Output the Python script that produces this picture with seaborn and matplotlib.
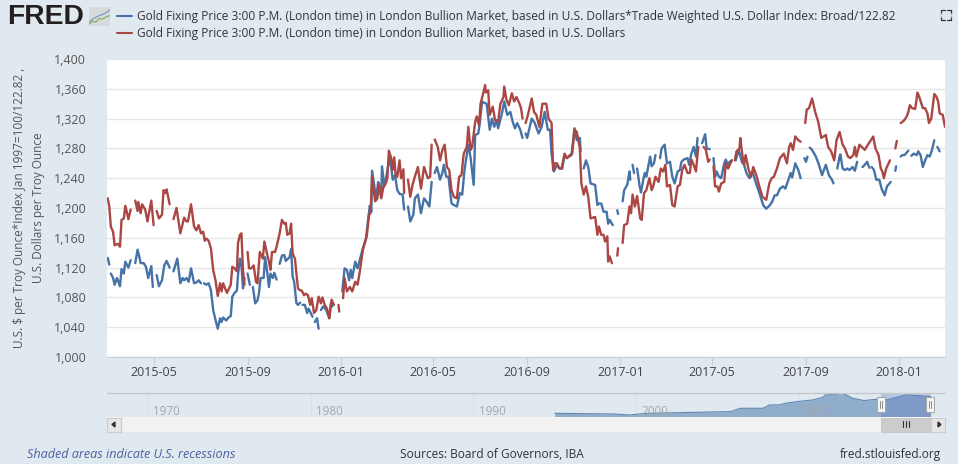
import matplotlib
matplotlib.use("Agg")
import matplotlib.pyplot as plt
import matplotlib.dates as mdates
from matplotlib.patches import Rectangle, Polygon
from matplotlib.lines import Line2D
import numpy as np
import pandas as pd
import seaborn as sns

nan = float("nan")
START_DATE = "2015-03-01"

blue_name = "Gold Fixing Price 3:00 P.M. (London time) in London Bullion Market, based in U.S. Dollars*Trade Weighted U.S. Dollar Index: Broad/122.82"
red_name = "Gold Fixing Price 3:00 P.M. (London time) in London Bullion Market, based in U.S. Dollars"
y_label = "U.S. $ per Troy Ounce*Index Jan 1997=100/122.82 ,\nU.S. Dollars per Troy Ounce"
y_ticks = [1000, 1040, 1080, 1120, 1160, 1200, 1240, 1280, 1320, 1360, 1400]
x_ticks = ["2015-05", "2015-09", "2016-01", "2016-05", "2016-09", "2017-01", "2017-05", "2017-09", "2018-01"]

# days since START_DATE, nan marks a break in the line
red_days = [1,3,5,8,10,14,17,19,22,24,28,31,nan,
 37,40,41,44,46,50,53,58,61,nan,
 65,68,72,74,76,78,82,nan,
 87,91,96,101,104,106,110,114,117,120,123,126,128,130,133,136,139,142,145,148,150,152,157,162,164,167,170,171.5,174,176,178,180,nan,
 184,186,189,192,195,197,200,204,206,209,212,214,216,220,222,226,229,232,234,236,239,241,243,246,250,252,255,258,260,263,266,268,271,274,277,280,282,285,288,291,294,297,nan,
 303,304,nan,
 309,311,314,318,321,325,328,331,335,340,343,345,347,351,354,356,359,362,365,367,369,372,374,376,378,380,383,385,388,389,nan,
 394,397,400,403,407,411,415,420,423,425,nan,
 429,433,436,439,442,445,448,451,454,458,461,464,467,471,473,476,478,482,484,487,489,492,495,496,499,501,505,508,512,515,519,520,523,526,530,533,536,540,542,544,nan,
 548,551,556,559,562,566,570,575,578,582,584,586,589,592,595,599,602,606,609,612,615,619,621,624,627,630,633,639,642,644,647,650,652,655,656,658,661,nan,
 668,669,nan,
 675,677,681,684,686,688,691,694,698,700,703,706,710,713,715,718,722,725,728,731,733,737,740,743,747,750,753,756,760,763,765,768,771,774,nan,
 781,784,787,789,nan,
 794,796,799,801,804,808,810,813,818,nan,
 822,824,828,829,832,834,836,840,843,846,850,854,858,863,867,870,873,877,881,886,890,893,895,898,901,905,908,nan,
 914,916,919,923,927,931,935,941,944,948,952,955,959,963,966,970,973,977,979,981,985,988,992,996,1000,1003,1006,1010,1013,1015,1017,1020,1025,nan,
 1032,1034,nan,
 1039,1043,1047,1049,1051,1054,1058,1061,1064,1068,1071,1074,1076,1079,1083,1086,1088,1090,1094,1097]
red_prices = [1213,1202,1175,1168,1150,1152,1148,1184,1186,1203,1185,1198,nan,
 1210,1196,1208,1193,1205,1198,1182,1210,1177,nan,
 1196,1186,1191,1224,1220,1225,1205,nan,
 1185,1200,1166,1187,1182,1182,1205,1175,1170,1177,1166,1168,1156,1159,1156,1146,1117,1103,1082,1099,1088,1099,1086,1097,1121,1119,1115,1153,1164,1166,1117,1097,nan,
 1141,1119,1119,1123,1101,1099,1141,1132,1155,1141,1128,1117,1141,1141,1148,1166,1184,1179,1180,1164,1166,1179,1139,1132,1092,1090,1089,1083,1085,1083,1070,1079,1059,1063,1081,1072,1080,1070,1065,1052,1077,1070,nan,
 1070,1061,nan,
 1079,1106,1088,1094,1088,1101,1097,1115,1144,1162,1191,1193,1242,1209,1213,1233,1213,1229,1233,1240,1277,1267,1251,1268,1242,1242,1264,1240,1252,1220,nan,
 1238,1215,1231,1242,1255,1226,1255,1240,1242,1285,nan,
 1292,1282,1264,1278,1285,1255,1251,1224,1215,1213,1242,1244,1273,1282,1309,1278,1282,1316,1323,1311,1340,1352,1365,1355,1358,1325,1336,1318,1316,1340,1349,1363,1345,1338,1354,1343,1349,1340,1334,1320,nan,
 1314,1325,1347,1329,1325,1309,1340,1340,1320,1314,1251,1260,1260,1253,1253,1273,1267,1271,1273,1305,1302,1280,1233,1218,1229,1215,1186,1188,1164,1175,1164,1164,1155,1162,1128,1135,1126,nan,
 1136,1146,nan,
 1153,1177,1179,1202,1193,1218,1202,1216,1186,1184,1220,1224,1240,1224,1229,1242,1235,1253,1249,1258,1229,1231,1204,1202,1229,1231,1251,1258,1247,1247,1265,1258,1249,1282,nan,
 1282,1278,1262,1265,nan,
 1256,1229,1229,1222,1233,1235,1260,1253,1264,nan,
 1264,1276,1280,1294,1269,1258,1271,1251,1242,1255,1244,1229,1215,1211,1233,1240,1242,1253,1267,1273,1260,1282,1287,1278,1296,1291,1289,nan,
 1314,1332,1334,1347,1329,1316,1294,1298,1282,1276,1264,1291,1302,1285,1280,1269,1267,1271,1282,1269,1285,1282,1278,1285,1291,1296,1280,1271,1253,1249,1240,1253,1264,nan,
 1280,1290,nan,
 1314,1317,1323,1329,1338,1334,1333,1355,1347,1334,1334,1327,1314,1320,1353,1349,1343,1327,1325,1309]

blue_days = [1,3,nan,
 5,8,10,13,15,17,19,22,24,28,31,nan,
 37,40,42,44,48,51,54,58,60,nan,
 65,68,72,75,78,82,nan,
 87,92,96,99,101,104,107,110,114,117,120,123,nan,
 127,130,133,136,139,142,145,148,150,152,156,159,162,164,167,170,171.5,174,176,178,180,nan,
 184,187,nan,
 191,194,197,199,201,205,207,210,212,214,217,219,222,nan,
 226,229,232,234,239,241,243,245,248,250,253,nan,
 256,259,262,264,269,nan,
 272,275,277,nan,
 280,283,287,291,293,295,nan,
 308,311,314,317,319,321,325,328,335,339,341,344,346,347,350,352,355,359,360,363,366,370,372,374,377,380,383,387,389,nan,
 394,397,401,403,407,411,415,418,422,425,nan,
 429,432,436,439,441,444,447,451,454,458,462,465,468,473,476,480,482,486,488,491,494,497,501,504,507,510,512,517,520,524,528,531,534,537,541,544,nan,
 548,550,553,556,560,565,569,573,577,580,582,585,589,593,596,599,602,608,612,615,619,620,nan,
 624,627,630,633,639,642,644,647,650,654,656,658,662,nan,
 668,669,nan,
 675,677,681,684,685,nan,
 688,690,nan,
 694,697,699,702,704,706,711,713,716,718,nan,
 724,726,730,733,737,740,743,747,750,752,755,760,762,765,768,771,773,nan,
 779,783,785,789,nan,
 794,796,798,801,804,808,810,813,815,818,nan,
 823,827,831,834,837,841,845,849,854,859,863,868,871,874,877,881,885,888,892,895,897,901,905,908,nan,
 913,915,917,nan,
 920,923,928,932,936,941,945,949,951,nan,
 956,959,960,963,966,969,972,976,979,982,nan,
 989,992,995,998,nan,
 1001,1004,1007,1011,1014,1018,1021,1026,nan,
 1032,1033,nan,
 1039,1041,1044,1049,nan,
 1053,1056,1060,1062,1065,1068,1071,1074,1077,1080,1083,nan,
 1087,1090]
blue_prices = [1133,1124,nan,
 1112,1106,1097,1106,1101,1095,1118,1112,1128,1120,1130,nan,
 1126,1144,1136,1126,1126,1121,1106,1122,1094,nan,
 1110,1095,1103,1123,1129,1120,nan,
 1115,1132,1099,1106,1103,1106,1101,1119,1099,1100,1103,1099,nan,
 1099,1097,1099,1090,1063,1050,1038,1052,1047,1053,1049,1053,1055,1081,1086,1089,1110,1132,1123,1092,1106,nan,
 1112,1097,nan,
 1094,1072,1076,1086,1106,1106,1134,1112,1094,1112,1106,1113,1104,nan,
 1125,1136,1137,1129,1134,1145,1108,1101,1072,1070,1073,nan,
 1070,1070,1059,1065,1054,nan,
 1047,1052,1038,nan,
 1063,1068,1063,1052,1072,1068,nan,
 1088,1119,1117,1103,1117,1106,1128,1119,1146,1159,1177,1203,1195,1250,1229,1211,1235,1215,1256,1229,1244,1269,1255,1238,1244,1224,1219,1218,1198,nan,
 1202,1182,1191,1213,1218,1193,1213,1209,1202,1235,nan,
 1247,1255,1238,1247,1258,1242,1242,1206,1204,1202,1220,1218,1251,1285,1267,1231,1298,1300,1314,1343,1341,1340,1305,1320,1309,1318,1307,1327,1343,1325,1329,1316,1307,1314,1305,1294,nan,
 1300,1294,1307,1320,1314,1300,1309,1329,1305,1305,1273,1249,1258,1253,1253,1271,1267,1271,1307,1291,1294,1276,nan,
 1253,1264,1255,1233,1231,1204,1206,1206,1195,1195,1179,1184,1177,nan,
 1197,1192,nan,
 1209,1224,1231,1249,1238,nan,
 1258,1247,nan,
 1253,1231,1221,1238,1247,1242,1269,1256,1260,1271,nan,
 1267,1280,1285,1260,1262,1242,1233,1249,1251,1262,1265,1267,1258,1273,1282,1269,1294,nan,
 1287,1299,1280,1279,nan,
 1267,1242,1249,1242,1240,1260,1265,1258,1262,1264,nan,
 1264,1278,1262,1258,1247,1240,1249,1235,1220,1204,1199,1204,1209,1217,1217,1226,1229,1226,1238,1247,1241,1260,1251,1240,nan,
 1267,1262,1269,nan,
 1281,1278,1269,1258,1244,1258,1244,1238,1233,nan,
 1253,1269,1272,1253,1251,1253,1251,1255,1250,1262,nan,
 1255,1258,1262,1254,nan,
 1255,1251,1238,1238,1226,1217,1229,1235,nan,
 1250,1256,nan,
 1269,1271,1271,1277,nan,
 1270,1273,1271,1276,1271,1255,1264,1271,1269,1278,1291,nan,
 1282,1276]

# range selector series (whole history)
nav_years = [1995.0,1998.6,1999.6,2000.6,2002.7,2004.7,2005.8,2006.4,2007.8,2008.2,2008.8,2009.2,2009.9,2010.9,2011.5,2011.7,2012.1,2012.7,2013.3,2014.0,2014.8,2015.1,2015.4,2016.2,2016.6,2018.1]
nav_values = [294,240,160,294,347,400,427,694,694,961,961,1095,1228,1362,1575,1842,1762,1895,1495,1308,1415,1362,1362,1629,1762,1629]
nav_labels = [1970, 1980, 1990, 2000, 2010]

icon_x = [0, 1, 2, 3, 4, 5, 6]
icon_blue = [1.2, 2.4, 3.0, 3.6, 4.0, 4.6, 5.6]
icon_green = [0.6, 1.6, 1.4, 2.6, 2.4, 3.2, 3.6]

W, H = 958, 465
BG = "#e1e9f0"
BLUE = "#4572a7"
RED = "#aa4643"
FONT = "Open Sans"

sns.set_theme(style="white")
plt.rcParams["font.family"] = [FONT, "DejaVu Sans"]
fig = plt.figure(figsize=(W / 100, H / 100), dpi=100, facecolor=BG)

def fx(x): return x / W
def fy(y): return 1 - y / H
def rect(x0, y0, x1, y1, **kw):
    fig.add_artist(Rectangle((fx(x0), fy(y1)), (x1 - x0) / W, (y1 - y0) / H, transform=fig.transFigure, **kw))
def hline(x0, y0, x1, y1, **kw):
    fig.add_artist(Line2D([fx(x0), fx(x1)], [fy(y0), fy(y1)], transform=fig.transFigure, **kw))
def text(x, y, s, **kw):
    fig.text(fx(x), fy(y), s, **kw)

# main axes
ax = fig.add_axes([fx(107), fy(357), 838 / W, 298 / H], facecolor="white")
t0 = pd.Timestamp(START_DATE)

def frame(days, prices, name):
    df = pd.DataFrame({"day": days, "price": prices})
    df["segment"] = df["price"].isna().cumsum()
    df = df.dropna().copy()
    df["date"] = t0 + pd.to_timedelta(df["day"], unit="D")
    df["series"] = name
    return df

for days, prices, name, col in [(blue_days, blue_prices, blue_name, BLUE), (red_days, red_prices, red_name, RED)]:
    sns.lineplot(data=frame(days, prices, name), x="date", y="price", units="segment", estimator=None,
                 color=col, lw=1.7, sort=False, legend=False, ax=ax, solid_joinstyle="round")

ax.set_xlim(t0, t0 + pd.Timedelta(days=1097))
ax.set_ylim(1000, 1400)
ax.set_yticks(y_ticks)
ax.set_yticklabels([f"{v:,}" for v in y_ticks], fontsize=9, color="#555555")
ax.set_xticks([pd.Timestamp(t + "-01") for t in x_ticks])
ax.set_xticklabels(x_ticks, fontsize=9, color="#444444")
ax.xaxis.set_minor_locator(matplotlib.ticker.NullLocator())
ax.grid(axis="y", color="#e6e6e6", lw=1)
ax.grid(axis="x", visible=False)
ax.set_axisbelow(True)
ax.set_xlabel("")
ax.set_ylabel("")
for s in ["top", "left", "right"]:
    ax.spines[s].set_visible(False)
ax.spines["bottom"].set_color("#c0d0e0")
ax.spines["bottom"].set_linewidth(0.8)
ax.tick_params(axis="x", length=5.8, color="#c0d0e0", width=0.8, pad=1, bottom=True)
ax.tick_params(axis="y", length=0, pad=15)

fig.text(fx(29), fy(207.5), y_label, rotation=90, ha="center", va="center", ma="center",
         fontsize=8.5, color="#555555", linespacing=1.6)

# header
text(7, 17.5, "FRED", family="Liberation Sans", fontsize=20.3, fontweight="bold", color="#231f20", va="center", ha="left")
icon = fig.add_axes([fx(89), fy(26), 21 / W, 19 / H], facecolor="#dfe4e6")
icon.add_patch(Rectangle((0, 0), 6, 6.5, color="#d5dadb", zorder=0))
sns.lineplot(x=icon_x, y=icon_blue, color="#7d9cc4", lw=0.9, ax=icon, legend=False)
sns.lineplot(x=icon_x, y=icon_green, color="#8fae6a", lw=0.9, ax=icon, legend=False)
icon.set_xlim(0, 6); icon.set_ylim(0, 6.5); icon.axis("off")

for y, col, s in [(16, BLUE, blue_name), (33, RED, red_name)]:
    hline(117, y, 132, y, color=col, lw=1.5)
    text(137, y + 0.5, s, fontsize=8.57, color="#333333", va="center", ha="left")

# fullscreen icon
for (a, b, c, d, e, f) in [(945, 10, 941, 10, 941, 14), (947, 10, 951, 10, 951, 14), (941, 17, 941, 20, 945, 20), (951, 17, 951, 20, 947, 20)]:
    fig.add_artist(Line2D([fx(a), fx(c), fx(e)], [fy(b), fy(d), fy(f)], transform=fig.transFigure, color="#333333", lw=0.9))
for x, y in [(941, 14), (951, 14), (941, 17), (951, 17)]:
    hline(x, y, x, y - 1, color="#e0a030", lw=0.9)

# range selector
nav = fig.add_axes([fx(107), fy(417), 838 / W, 24.5 / H], facecolor=BG)
yr0 = 1970 + (107 - 148) / 16.27
yr1 = 1970 + (945 - 148) / 16.27
sel0, sel1 = 1970 + (881 - 148) / 16.27, 1970 + (931 - 148) / 16.27
for yr in nav_labels:
    nav.axvline(yr, color="#d8e0e8", lw=0.8, zorder=1)
    nav.text(yr + 0.33, 0.22, str(yr), transform=nav.get_xaxis_transform(), fontsize=8.4, color="#a6a6a6", ha="left", va="center", zorder=4)
nav.axvspan(sel0, sel1, color="#b6c6e2", lw=0, zorder=1)
nav.fill_between(nav_years, nav_values, 0, color="#6f94bd", alpha=0.7, lw=0, zorder=2)
mask = [sel0 <= v <= sel1 for v in nav_years]
nav.fill_between(nav_years, nav_values, 0, where=mask, color="#7f9ac6", alpha=0.9, lw=0, zorder=3)
sns.lineplot(x=nav_years, y=nav_values, color="#5f86b3", lw=0.8, ax=nav, legend=False, zorder=3)
nav.set_xlim(yr0, yr1)
nav.set_ylim(0, 1950)
nav.axis("off")
hline(107, 392.8, 945, 392.8, color="#c4c8cc", lw=1)

# scrollbar
rect(107, 417, 945, 431.7, facecolor="#f2f2f2", edgecolor="none")
rect(106.5, 417.5, 120.5, 431.5, facecolor="#e6e6e6", edgecolor="#cccccc", lw=0.8)
fig.add_artist(Polygon([[fx(112), fy(424.5)], [fx(115), fy(422)], [fx(115), fy(427)]], transform=fig.transFigure, color="#333333"))
rect(881, 417.5, 931, 431.5, facecolor="#cccccc", edgecolor="#c4c4c4", lw=0.6)
for x in [903, 906, 909]:
    hline(x, 421, x, 427, color="#333333", lw=0.8)
rect(931, 417.5, 945, 431.5, facecolor="#e6e6e6", edgecolor="#cccccc", lw=0.8)
fig.add_artist(Polygon([[fx(941), fy(424.5)], [fx(938), fy(422)], [fx(938), fy(427)]], transform=fig.transFigure, color="#333333"))
for x in [881, 930]:
    rect(x - 4, 397, x + 4, 412, facecolor="#f6f6f6", edgecolor="#a8a8a8", lw=0.8, zorder=5)
    hline(x - 1.2, 401, x - 1.2, 408, color="#888888", lw=0.7, zorder=6)
    hline(x + 1.2, 401, x + 1.2, 408, color="#888888", lw=0.7, zorder=6)

# footer
text(27, 454.5, "Shaded areas indicate U.S. recessions", fontsize=9.1, style="italic", color="#4a5fa0", va="center", ha="left")
text(492, 454.5, "Sources: Board of Governors, IBA", fontsize=8.6, color="#333333", va="center", ha="center")
text(941, 454.5, "fred.stlouisfed.org", fontsize=8.6, color="#333333", va="center", ha="right")
rect(0, 464, 958, 465, facecolor="white", edgecolor="none")

fig.savefig("out.png", dpi=100, facecolor=BG)
